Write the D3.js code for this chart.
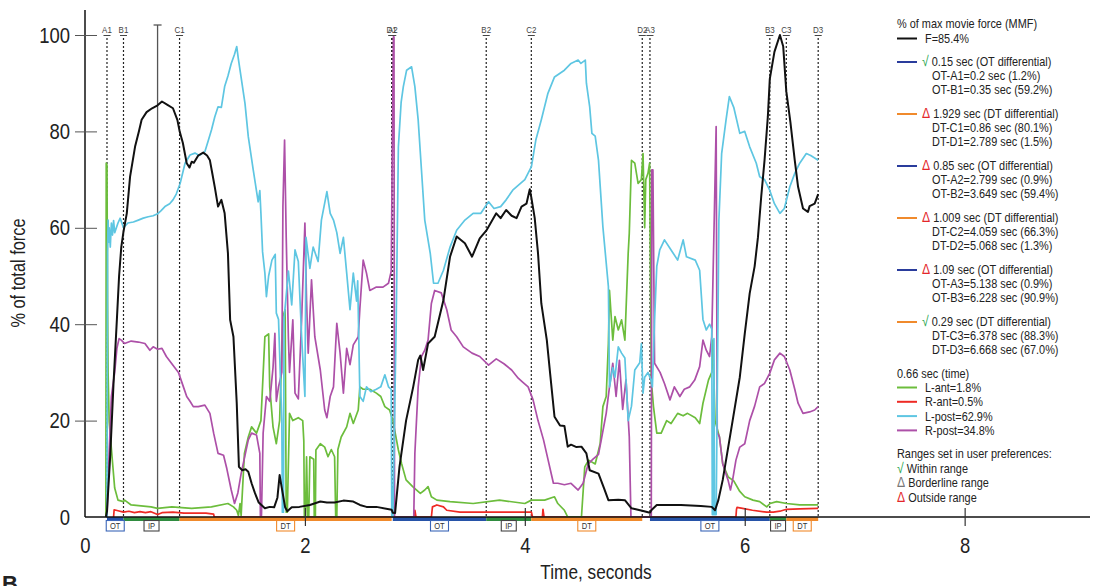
<!DOCTYPE html>
<html>
<head>
<meta charset="utf-8">
<script src="https://cdn.jsdelivr.net/npm/d3@7"></script>
<style>
  body { margin: 0; background: #fff; }
  svg text { font-family: "Liberation Sans Narrow", "Liberation Sans", Arial, sans-serif; fill: #222; }
</style>
</head>
<body>
<div class="visContainer"></div>
<script>
// Data.
const markerLabels = ['A1', 'B1', 'C1', 'D1', 'A2', 'B2', 'C2', 'D2', 'A3', 'B3', 'C3', 'D3'];
const markerTimes = [0.2, 0.35, 0.86, 2.789, 2.799, 3.649, 4.059, 5.068, 5.138, 6.228, 6.378, 6.668];
const markerPct = [1.2, 59.2, 80.1, 1.5, 0.9, 59.4, 66.3, 1.3, 0.9, 90.9, 88.3, 67.0];

const phaseNames = ['OT', 'IP', 'DT', 'OT', 'IP', 'DT', 'OT', 'IP', 'DT'];
const phaseStart = [0.2, 0.35, 0.86, 2.799, 3.649, 4.059, 5.138, 6.228, 6.378];
const phaseEnd = [0.35, 0.86, 2.789, 3.649, 4.059, 5.068, 6.228, 6.378, 6.668];

const diffTexts = ['0.15 sec (OT differential)', '1.929 sec (DT differential)', '0.85 sec (OT differential)',
                   '1.009 sec (DT differential)', '1.09 sec (OT differential)', '0.29 sec (DT differential)'];
const diffPhase = ['OT', 'DT', 'OT', 'DT', 'OT', 'DT'];
const diffStatus = ['within', 'outside', 'outside', 'outside', 'outside', 'within'];

const cursorTime = 0.66;
const forceAtCursor = 85.4;
const seriesNames = ['L-ant', 'R-ant', 'L-post', 'R-post'];
const seriesAtCursor = [1.8, 0.5, 62.9, 34.8];

const xTicks = [0, 2, 4, 6, 8];
const yTicks = [0, 20, 40, 60, 80, 100];

// Force, % of max movie force.
const force = [[0.19,0],[0.2,1.2],[0.23,13],[0.26,28],[0.29,41],[0.31,50],[0.33,56],[0.35,59.2],[0.38,63],[0.41,70.6],[0.455,76.8],[0.49,80],[0.515,82.4],[0.56,84],[0.61,84.8],[0.66,85.4],[0.70,86.2],[0.75,85.5],[0.80,84.8],[0.84,82.4],[0.86,80.1],[0.89,77.6],[0.925,73.4],[0.95,72.5],[0.97,73.7],[0.99,73.5],[1.03,75],[1.075,75.6],[1.11,75],[1.136,74],[1.16,71],[1.18,68.5],[1.21,64.4],[1.24,65.8],[1.27,63],[1.30,54.7],[1.32,40.9],[1.35,37.4],[1.38,23.6],[1.40,10.4],[1.43,9.7],[1.46,9.9],[1.485,9.4],[1.515,7],[1.545,5],[1.58,3],[1.636,1.8],[1.68,2.1],[1.72,2],[1.75,4],[1.77,8.7],[1.79,6],[1.82,2],[1.84,1.2],[1.88,2],[1.95,2.1],[2.045,2.5],[2.14,3.2],[2.2,3],[2.27,3],[2.35,3.4],[2.44,3.2],[2.5,2.5],[2.56,2.1],[2.65,2.1],[2.789,1.5],[2.799,0.9],[2.82,0.8],[2.86,10.4],[2.92,20],[2.985,27],[3.03,32.6],[3.05,33.5],[3.075,30.5],[3.12,36],[3.18,37.4],[3.26,45],[3.32,54],[3.38,58.2],[3.455,56.8],[3.52,54],[3.59,57.8],[3.649,59.4],[3.67,60.2],[3.74,63],[3.78,62],[3.83,63.7],[3.88,62.5],[3.925,62],[3.97,64.4],[4.015,65],[4.045,68],[4.059,66.3],[4.09,62],[4.12,54.7],[4.15,44.3],[4.2,36.7],[4.23,29.8],[4.27,20.8],[4.32,19],[4.36,18.9],[4.39,14.6],[4.42,15],[4.47,14.5],[4.515,14.6],[4.56,13.2],[4.59,9.7],[4.67,9],[4.72,6],[4.76,3.5],[4.85,3.6],[4.91,3.5],[4.97,1.8],[5.068,1.3],[5.138,0.9],[5.15,1.4],[5.2,2.5],[5.42,2.5],[5.6,2.3],[5.70,2.1],[5.73,1.4],[5.76,3.5],[5.80,7.7],[5.83,11.8],[5.89,20],[5.955,29],[6.0,38],[6.045,46.4],[6.09,52],[6.12,58],[6.15,66.5],[6.18,74],[6.21,83],[6.228,90.9],[6.27,96.5],[6.32,100],[6.35,97.6],[6.378,88.3],[6.415,82],[6.455,74],[6.485,68.5],[6.53,64],[6.575,63.3],[6.59,64.5],[6.636,65],[6.668,67]];

// L-post, % of total force.
const lPost = [[0.195,0],[0.2,0],[0.205,55],[0.21,61.6],[0.215,57],[0.22,60],[0.23,56],[0.24,61],[0.25,58.5],[0.26,61.5],[0.27,59],[0.3,61],[0.32,62],[0.35,60],[0.39,61],[0.44,61.2],[0.485,61.6],[0.53,62],[0.575,62.3],[0.62,62.5],[0.66,62.9],[0.69,63.5],[0.727,64.4],[0.77,65],[0.80,65.8],[0.83,67],[0.865,69.2],[0.91,73.4],[0.955,75.1],[1.0,75.5],[1.04,75],[1.09,75.8],[1.12,78],[1.15,80.3],[1.18,83],[1.21,85.1],[1.24,85],[1.27,89.3],[1.3,91.5],[1.33,94.1],[1.36,96],[1.38,97.6],[1.395,95],[1.41,92.7],[1.455,85.8],[1.485,78.9],[1.53,72],[1.575,65.4],[1.59,67.7],[1.6,63],[1.615,55],[1.636,50.6],[1.65,45.7],[1.67,50],[1.70,53.3],[1.73,54.5],[1.74,42.3],[1.76,41],[1.79,20],[1.795,1],[1.805,1],[1.81,41],[1.85,51],[1.88,44],[1.91,55.4],[1.94,53],[1.97,37.4],[2.0,25],[2.01,58],[2.045,51.6],[2.075,56],[2.12,53],[2.15,61.6],[2.2,67.5],[2.23,63],[2.26,61.6],[2.29,59],[2.32,54.7],[2.35,58],[2.38,50.6],[2.41,43],[2.44,50.6],[2.47,44.8],[2.48,49],[2.5,25],[2.53,24],[2.56,27],[2.6,26],[2.65,26.5],[2.69,27],[2.727,29.5],[2.76,27],[2.785,26.5],[2.79,0],[2.8,0],[2.83,40],[2.85,76.8],[2.875,86],[2.895,89.3],[2.925,92.7],[2.97,93.4],[3.0,89.3],[3.03,82.4],[3.06,72],[3.09,61.6],[3.14,54.7],[3.17,48.5],[3.21,48.5],[3.26,51.2],[3.32,56],[3.38,59.5],[3.455,61.6],[3.53,63],[3.6,63],[3.67,65.4],[3.72,64],[3.78,64.4],[3.83,65.8],[3.89,67.8],[3.95,69],[4.0,70],[4.06,72.7],[4.1,78.2],[4.15,82.4],[4.21,87.9],[4.27,91.3],[4.36,92.7],[4.42,94.1],[4.485,94.8],[4.51,94.1],[4.55,94.8],[4.56,90],[4.59,85.1],[4.61,79.6],[4.64,79],[4.67,74],[4.71,60.2],[4.76,47.8],[4.77,27],[4.8,31],[4.82,29],[4.85,35.3],[4.88,34],[4.91,33],[4.94,20],[4.97,23],[5.0,30.5],[5.045,32],[5.06,36],[5.075,25.7],[5.09,29],[5.12,30],[5.15,28.3],[5.16,27],[5.18,40.9],[5.2,52],[5.227,55.4],[5.27,57.5],[5.33,55.4],[5.39,53.3],[5.44,57.5],[5.47,54],[5.55,53.3],[5.59,51.2],[5.62,41],[5.65,38.8],[5.68,40],[5.70,39],[5.705,0.5],[5.715,0.5],[5.72,37],[5.725,0.5],[5.74,0.5],[5.765,61.6],[5.79,75.4],[5.83,82.4],[5.86,87.2],[5.9,85],[5.955,79.6],[6.0,80],[6.045,76.8],[6.105,73.4],[6.136,70.6],[6.18,70],[6.227,67.8],[6.27,65],[6.32,63],[6.36,64],[6.41,68.5],[6.455,71.3],[6.5,73.4],[6.56,75.4],[6.6,75],[6.668,74]];

// R-post, % of total force.
const rPost = [[0.195,0],[0.2,0],[0.22,13.5],[0.24,25],[0.27,30],[0.29,35],[0.31,37],[0.33,36.7],[0.36,36],[0.42,36.5],[0.485,36.3],[0.545,36],[0.59,34.6],[0.62,35.3],[0.66,34.8],[0.7,35],[0.74,33.3],[0.80,31.5],[0.85,30],[0.895,27],[0.925,25],[0.955,24],[0.985,22.9],[1.03,22.9],[1.09,23.2],[1.136,21.5],[1.17,17.4],[1.21,13.2],[1.26,12.8],[1.29,10],[1.33,5.6],[1.36,2.8],[1.39,5],[1.42,9],[1.485,16],[1.515,17.4],[1.56,17],[1.59,13.2],[1.595,0.3],[1.605,0.3],[1.62,17.4],[1.65,25],[1.68,24],[1.71,31],[1.727,38.1],[1.74,24],[1.76,27],[1.79,30],[1.80,64.4],[1.815,78.2],[1.83,58],[1.85,37],[1.86,30],[1.89,40.9],[1.91,25.7],[1.94,24.5],[1.97,40.9],[2.0,61],[2.015,44.8],[2.03,34],[2.06,49.2],[2.09,37.4],[2.14,30.5],[2.18,22.2],[2.2,20.6],[2.23,25],[2.26,27],[2.29,40.2],[2.32,34],[2.35,25.7],[2.38,35],[2.41,31.6],[2.44,35.7],[2.485,37.4],[2.5,43.3],[2.53,53.3],[2.56,50.6],[2.59,47],[2.65,47.7],[2.71,47.7],[2.76,48.5],[2.785,51],[2.795,77],[2.805,99.6],[2.81,99.6],[2.815,0],[2.99,0],[3.0,13.2],[3.03,27],[3.06,33.3],[3.09,34.6],[3.12,36.7],[3.15,44.3],[3.18,47],[3.24,46.5],[3.29,43],[3.33,38.8],[3.38,37.4],[3.44,35.3],[3.52,34],[3.59,33.3],[3.67,31.5],[3.74,32.8],[3.81,31.8],[3.88,30.5],[3.94,28.8],[3.98,28],[4.03,27],[4.075,24.3],[4.12,20],[4.17,16],[4.21,12],[4.26,7],[4.3,7],[4.36,6.7],[4.42,7],[4.485,5.6],[4.53,7],[4.576,11],[4.62,12],[4.67,13],[4.7,16.6],[4.74,21.5],[4.77,27],[4.8,31.9],[4.83,25],[4.86,32.5],[4.89,22.3],[4.92,28.5],[4.95,16.6],[4.965,0],[5.15,0],[5.155,72],[5.165,72],[5.18,31.9],[5.23,30],[5.27,27.7],[5.32,24.3],[5.36,27],[5.41,25],[5.45,26.5],[5.5,27],[5.545,28.4],[5.59,31.2],[5.62,36.7],[5.65,34.6],[5.68,33.3],[5.7,37.4],[5.725,64.4],[5.74,81],[5.75,17.5],[5.77,16.6],[5.8,11],[5.85,7.5],[5.87,5.6],[5.89,7.7],[5.92,11.8],[5.955,14.5],[6.0,15.2],[6.045,20],[6.09,23],[6.136,27],[6.18,27.7],[6.227,29.8],[6.27,32.6],[6.32,34],[6.36,33.3],[6.41,30.5],[6.455,26.5],[6.485,23.6],[6.53,21.5],[6.59,21.8],[6.636,22.2],[6.668,22.9]];

// L-ant, % of total force.
const lAnt = [[0.19,0],[0.193,73.4],[0.2,73],[0.205,45],[0.21,30],[0.22,19.7],[0.25,11.4],[0.27,6],[0.3,3.5],[0.35,3.2],[0.36,3.5],[0.42,2.5],[0.6,2.1],[0.66,1.8],[0.79,2.1],[0.97,1.8],[1.15,2.1],[1.30,2.8],[1.35,2.1],[1.38,1.4],[1.395,0.3],[1.41,2.8],[1.42,0.3],[1.45,13.2],[1.485,16.6],[1.515,18.7],[1.56,17.4],[1.6,20],[1.636,37.4],[1.67,38],[1.68,27],[1.71,18.7],[1.74,15.2],[1.77,20],[1.80,41.6],[1.82,43],[1.83,1],[1.84,1],[1.86,21.5],[1.89,20],[1.94,20.6],[1.98,20],[1.99,15.8],[1.995,0],[2.005,0],[2.015,12.5],[2.025,0],[2.035,0],[2.045,12.5],[2.08,12],[2.085,0],[2.095,0],[2.1,13.9],[2.14,15.2],[2.18,14.5],[2.21,12.5],[2.24,14],[2.27,12.5],[2.28,0],[2.29,0],[2.3,14],[2.33,16.6],[2.38,18.7],[2.41,21.5],[2.44,19.4],[2.485,22.2],[2.5,27],[2.53,26.5],[2.59,26.5],[2.65,25.7],[2.69,25],[2.727,22.9],[2.77,22.2],[2.8,20],[2.85,13.9],[2.88,11],[2.92,7.7],[2.98,6.3],[3.05,4.9],[3.09,5.6],[3.12,6.3],[3.15,4.2],[3.2,3.5],[3.32,3.2],[3.53,2.8],[3.77,3.5],[4.0,2.8],[4.06,3.5],[4.18,3.5],[4.27,4.2],[4.3,2.8],[4.36,1.4],[4.39,0],[4.515,0],[4.545,10.4],[4.58,11.8],[4.64,11],[4.685,15.2],[4.71,22.9],[4.74,25],[4.76,36],[4.77,47],[4.8,36.7],[4.82,41.6],[4.85,38.8],[4.88,40.9],[4.91,36.7],[4.94,54.7],[4.95,58.9],[4.97,74],[5.0,73.4],[5.03,69.2],[5.06,70],[5.075,75.4],[5.09,60],[5.1,70],[5.12,71.3],[5.135,73.4],[5.15,28.4],[5.17,22.9],[5.2,17.4],[5.24,17.4],[5.29,20],[5.33,19.4],[5.39,21.5],[5.44,21],[5.48,21.5],[5.55,20.6],[5.59,19.4],[5.62,23.6],[5.67,28.4],[5.7,30],[5.71,36.7],[5.73,20],[5.77,16.6],[5.8,11],[5.85,8.3],[5.9,7.5],[5.955,5.3],[6.0,4.2],[6.075,3.5],[6.136,3.2],[6.2,2.1],[6.23,2.8],[6.29,3.2],[6.38,2.8],[6.5,2.5],[6.668,2.5]];

// R-ant, % of total force.
const rAnt = [[0.26,0],[0.265,1.5],[0.3,1.3],[0.35,1],[0.4,1.2],[0.45,0.9],[0.5,1.1],[0.55,0.9],[0.6,1.1],[0.66,0.5],[0.7,0.9],[0.8,1],[0.9,0.8],[1.0,0.8],[1.1,0.8],[1.17,0.6],[1.175,0],[2.99,0],[3.0,1.4],[3.01,0],[3.15,0],[3.16,2.1],[3.2,2.5],[3.26,2.1],[3.29,1.4],[3.41,1],[3.6,1],[4.0,1],[4.06,1],[4.07,0],[4.16,0],[4.165,1.6],[4.175,0],[5.92,0],[5.925,1.6],[5.93,2],[5.98,1.8],[6.07,1.4],[6.2,1],[6.26,1],[6.32,1.2],[6.38,1.6],[6.5,1.7],[6.668,1.8]];

const seriesData = [rAnt, lAnt, rPost, lPost, force];
const seriesColors = ['#ee2a24', '#6cbd3c', '#ad50a8', '#5ec6e2', '#111'];

// Colours.
const phaseColor = { OT: '#2753a8', IP: '#2f8c3f', DT: '#f08a2c' };
const boxColor = { OT: '#3b66b8', IP: '#444', DT: '#f08a2c' };
const swatchColor = { OT: '#2a3c9c', DT: '#f08a2c' };
const statusSymbol = { within: '\u221A', borderline: '\u0394', outside: '\u0394' };
const statusColor = { within: '#22a44a', borderline: '#777', outside: '#e3262a' };
const legendColors = ['#6cbd3c', '#ee2a24', '#5ec6e2', '#ad50a8'];

// SVG constants.
const width = 1100;
const height = 586;
const narrow = 0.84;

const x = d3.scaleLinear().domain([0, 9.14]).range([85, 1090]);
const y = d3.scaleLinear().domain([0, 100]).range([517, 35]);

const svg = d3.select('.visContainer')
              .append('svg')
              .attr('width', width)
              .attr('height', height);

// Marker lines and labels.
const markers = svg.append('g').selectAll('g')
                   .data(markerTimes)
                   .enter()
                   .append('g')
                   .attr('transform', (d) => 'translate(' + x(d) + ',0)');
markers.append('line')
       .attr('y1', 38)
       .attr('y2', y(0))
       .attr('stroke', '#222')
       .attr('stroke-width', 1.2)
       .attr('stroke-dasharray', '2,2');
markers.append('line')
       .attr('x1', -3.5).attr('x2', 3.5)
       .attr('y1', 35.5).attr('y2', 35.5)
       .attr('stroke', '#444');
markers.append('text')
       .attr('y', 33)
       .attr('text-anchor', 'middle')
       .attr('transform', 'scale(' + narrow + ',1)')
       .style('font-size', '9.5px')
       .style('fill', '#444')
       .text((d, i) => markerLabels[i]);

// Time cursor.
svg.append('line')
   .attr('x1', x(cursorTime)).attr('x2', x(cursorTime))
   .attr('y1', 25).attr('y2', y(0))
   .attr('stroke', '#555').attr('stroke-width', 1.3);
svg.append('line')
   .attr('x1', x(cursorTime) - 4).attr('x2', x(cursorTime) + 4)
   .attr('y1', 25).attr('y2', 25)
   .attr('stroke', '#555').attr('stroke-width', 1.3);

// Plot series.
const line = d3.line()
               .x((d) => x(d[0]))
               .y((d) => y(d[1]));

svg.append('g').selectAll('path')
   .data(seriesData)
   .enter()
   .append('path')
   .attr('d', line)
   .attr('fill', 'none')
   .attr('stroke', (d, i) => seriesColors[i])
   .attr('stroke-width', (d, i) => i === 4 ? 2 : 1.7)
   .attr('stroke-linejoin', 'round');

// Phase band.
svg.append('g').selectAll('rect')
   .data(phaseNames)
   .enter()
   .append('rect')
   .attr('x', (d, i) => x(phaseStart[i]))
   .attr('y', y(0))
   .attr('width', (d, i) => x(phaseEnd[i]) - x(phaseStart[i]))
   .attr('height', 4)
   .attr('fill', (d) => phaseColor[d]);

// Axes.
const xAxis = svg.append('g')
                 .attr('transform', 'translate(0,' + y(0) + ')')
                 .call(d3.axisBottom(x).tickValues(xTicks).tickSize(9).tickPadding(11).tickFormat(d3.format('d')));
xAxis.select('.domain').attr('d', 'M85,0H1090').attr('stroke', '#111').attr('stroke-width', 1.5);
xAxis.selectAll('.tick line').attr('y1', -9).attr('stroke', '#333').attr('stroke-width', 1.2);
xAxis.selectAll('.tick').filter((d) => d === 0).select('line').remove();

const yAxis = svg.append('g')
                 .attr('transform', 'translate(' + x(0) + ',0)')
                 .call(d3.axisLeft(y).tickValues(yTicks).tickSize(10).tickPadding(5));
yAxis.select('.domain').attr('d', 'M0,10V' + y(0)).attr('stroke', '#111').attr('stroke-width', 1.5);
yAxis.selectAll('.tick line').attr('x1', 12).attr('stroke', '#555');
yAxis.selectAll('.tick').filter((d) => d === 0).select('line').remove();
yAxis.selectAll('.tick text').attr('x', -15 / narrow);

svg.selectAll('.tick text')
   .attr('font-family', null)
   .attr('font-size', null)
   .attr('fill', '#222')
   .attr('transform', 'scale(' + narrow + ',1)')
   .style('font-size', '22px');

// Phase boxes.
const boxes = svg.append('g').selectAll('g')
                 .data(phaseNames)
                 .enter()
                 .append('g')
                 .attr('transform', (d, i) => 'translate(' + x((phaseStart[i] + phaseEnd[i]) / 2) + ',' + (y(0) + 3.5) + ')');
boxes.append('rect')
     .attr('x', (d) => d === 'IP' ? -7.5 : -9)
     .attr('width', (d) => d === 'IP' ? 15 : 18)
     .attr('height', 10.5)
     .attr('fill', '#fff')
     .attr('stroke', (d) => boxColor[d])
     .attr('stroke-width', 1.1);
boxes.append('text')
     .attr('y', 8.6)
     .attr('text-anchor', 'middle')
     .attr('transform', 'scale(' + narrow + ',1)')
     .style('font-size', '9px')
     .style('fill', '#333')
     .text((d) => d);

// Axis titles.
svg.append('text')
   .attr('x', 596 / narrow).attr('y', 579)
   .attr('transform', 'scale(' + narrow + ',1)')
   .attr('text-anchor', 'middle')
   .style('font-size', '20.5px')
   .text('Time, seconds');
svg.append('text')
   .attr('transform', 'translate(25,273) rotate(-90) scale(' + narrow + ',1)')
   .attr('text-anchor', 'middle')
   .style('font-size', '19.5px')
   .text('% of total force');
svg.append('text')
   .attr('x', 2).attr('y', 591)
   .style('font-size', '22px')
   .style('font-weight', 'bold')
   .text('B');

// Legend.
const legend = svg.append('g')
                  .attr('class', 'legend')
                  .style('font-size', '13px');
const lx = 897;

function swatch(yPos, color) {
    legend.append('line')
          .attr('x1', lx).attr('x2', lx + 20)
          .attr('y1', yPos - 4.5).attr('y2', yPos - 4.5)
          .attr('stroke', color).attr('stroke-width', 2);
}

function label(xPos, yPos) {
    return legend.append('text')
                 .attr('x', xPos / narrow)
                 .attr('y', yPos)
                 .attr('transform', 'scale(' + narrow + ',1)');
}

label(lx, 28).text('% of max movie force (MMF)');
swatch(43, '#111');
label(lx + 28, 43).text('F=' + forceAtCursor + '%');

diffTexts.forEach((text, g) => {
    const top = 66.5 + g * 52;
    swatch(top, swatchColor[diffPhase[g]]);
    const t = label(lx + 25, top);
    t.append('tspan')
     .style('fill', statusColor[diffStatus[g]])
     .style('font-size', '14.5px')
     .text(statusSymbol[diffStatus[g]]);
    t.append('tspan').text(' ' + text);
    [0, 1].forEach((k) => {
        const m = g * 2 + k;
        label(lx + 35, top + 14 * (k + 1))
            .text(diffPhase[g] + '-' + markerLabels[m] + '=' + markerTimes[m] + ' sec (' + markerPct[m].toFixed(1) + '%)');
    });
});

label(lx, 378).text(cursorTime + ' sec (time)');
seriesNames.forEach((name, i) => {
    const yy = 392 + i * 14.3;
    swatch(yy, legendColors[i]);
    label(lx + 28, yy).text(name + '=' + seriesAtCursor[i] + '%');
});

label(lx, 458.5).text('Ranges set in user preferences:');
const rangeKeys = ['within', 'borderline', 'outside'];
const rangeText = ['Within range', 'Borderline range', 'Outside range'];
rangeKeys.forEach((k, i) => {
    const t = label(lx, 473 + i * 14.5);
    t.append('tspan').style('fill', statusColor[k]).style('font-size', '14.5px').text(statusSymbol[k]);
    t.append('tspan').text(' ' + rangeText[i]);
});
</script>
</body>
</html>
